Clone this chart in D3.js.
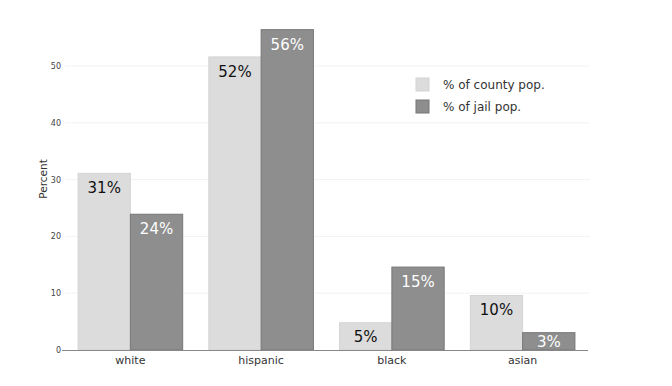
<!DOCTYPE html>
<html>
<head>
<meta charset="utf-8">
<script src="https://cdn.jsdelivr.net/npm/d3@7"></script>
<style>
  body { margin: 0; background: #fff; }
  svg text { font-family: "DejaVu Sans", Verdana, sans-serif; }
</style>
</head>
<body>
<script>
// data
const groups = ['white', 'hispanic', 'black', 'asian'];
const countyPop = [31.1, 51.6, 4.8, 9.6];
const jailPop = [23.9, 56.4, 14.6, 3.05];
const seriesNames = ['% of county pop.', '% of jail pop.'];
const yTicks = [0, 10, 20, 30, 40, 50];

const colors = ['#dcdcdc', '#8e8e8e'];
const strokes = ['#d4d4d4', '#777777'];
const labelColors = ['#111', '#fff'];

const svg = d3.select('body')
    .append('svg')
    .attr('width', 672)
    .attr('height', 386);

const x = d3.scaleBand().domain(groups).range([65, 588]).paddingInner(0.2).paddingOuter(0.1);
const inner = d3.scaleBand().domain([0, 1]).range([0, x.bandwidth()]);
const y = d3.scaleLinear().domain([0, 60]).range([350, 9.2]);

// grid
svg.append('g')
    .selectAll('line')
    .data(yTicks.filter(t => t > 0))
    .enter()
    .append('line')
    .attr('x1', 65).attr('x2', 590)
    .attr('y1', d => y(d)).attr('y2', d => y(d))
    .attr('stroke', '#f2f2f2')
    .attr('stroke-width', 1);

// bars
const series = [countyPop, jailPop];
series.forEach((vals, s) => {
    const g = svg.append('g').attr('class', 'series-' + s);
    g.selectAll('rect')
        .data(vals)
        .enter()
        .append('rect')
        .attr('x', (d, i) => x(groups[i]) + inner(s))
        .attr('y', d => y(d))
        .attr('width', inner.bandwidth())
        .attr('height', d => y(0) - y(d))
        .attr('fill', colors[s])
        .attr('stroke', strokes[s])
        .attr('stroke-width', 1);

    g.selectAll('text')
        .data(vals)
        .enter()
        .append('text')
        .attr('x', (d, i) => x(groups[i]) + inner(s) + inner.bandwidth() / 2)
        .attr('y', d => Math.min(y(d) + 20, (y(d) + y(0)) / 2 + 6))
        .attr('text-anchor', 'middle')
        .attr('font-size', 15)
        .attr('fill', labelColors[s])
        .text(d => Math.round(d) + '%');
});

// y axis labels
svg.append('g')
    .selectAll('text')
    .data(yTicks)
    .enter()
    .append('text')
    .attr('x', 61)
    .attr('y', d => y(d) + 3)
    .attr('text-anchor', 'end')
    .attr('font-size', 8)
    .attr('fill', '#444')
    .text(d => d);

// x axis line
svg.append('line')
    .attr('x1', 62).attr('x2', 588)
    .attr('y1', y(0) + 0.5).attr('y2', y(0) + 0.5)
    .attr('stroke', '#888')
    .attr('stroke-width', 1);

// x labels
svg.append('g')
    .selectAll('text')
    .data(groups)
    .enter()
    .append('text')
    .attr('x', d => x(d) + x.bandwidth() / 2)
    .attr('y', 364)
    .attr('text-anchor', 'middle')
    .attr('font-size', 11)
    .attr('fill', '#333')
    .text(d => d);

// y title
svg.append('text')
    .attr('transform', 'translate(47,179) rotate(-90)')
    .attr('text-anchor', 'middle')
    .attr('font-size', 10.5)
    .attr('fill', '#333')
    .text('Percent');

// legend
const legend = svg.append('g').attr('transform', 'translate(416,78)');
seriesNames.forEach((name, i) => {
    legend.append('rect')
        .attr('x', 0).attr('y', i * 22)
        .attr('width', 13).attr('height', 13)
        .attr('fill', colors[i])
        .attr('stroke', strokes[i]);
    legend.append('text')
        .attr('x', 27).attr('y', i * 22 + 11)
        .attr('font-size', 12)
        .attr('fill', '#333')
        .text(name);
});
</script>
</body>
</html>
